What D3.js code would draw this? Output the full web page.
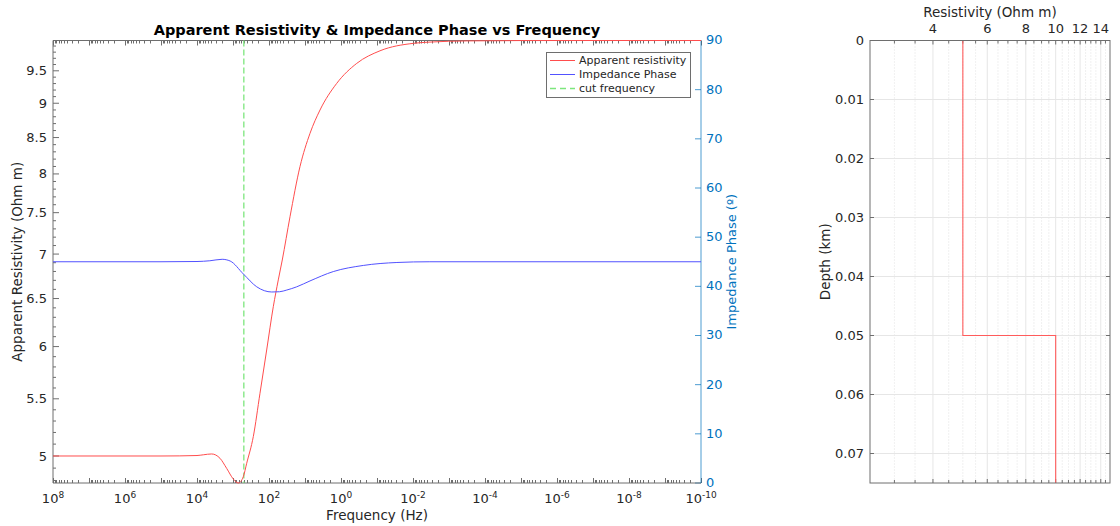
<!DOCTYPE html>
<html>
<head>
<meta charset="utf-8">
<script src="https://cdn.jsdelivr.net/npm/d3@7"></script>
<style>
  body { margin: 0; background: #fff; }
  text { font-family: "DejaVu Sans", sans-serif; }
</style>
</head>
<body>
<svg id="chart" width="1120" height="526"></svg>
<script>
// ---- Sounding curves (frequency in Hz, high to low) ----
const freqRho = [1e8, 1e6, 1e5, 3e4, 1e4, 6680, 3910, 2300, 1500, 982, 713, 518, 416, 273, 178, 116, 76, 55.2, 42.8, 26.1, 13.8, 7.26, 3.83, 1.32, 0.366, 0.0826, 0.0098, 0.00337, 3.2e-4, 1e-5, 1e-7, 1e-10];
const rhoApparent = [5.0, 5.0, 5.0, 5.001, 5.004, 5.01, 5.017, 4.981, 4.898, 4.812, 4.78, 4.83, 4.94, 5.164, 5.551, 5.966, 6.412, 6.705, 6.931, 7.449, 8.097, 8.56, 8.899, 9.302, 9.618, 9.822, 9.945, 9.966, 9.985, 9.991, 9.992, 9.992];

const freqPhase = [1e8, 1e6, 1e5, 1e4, 4400, 2000, 1200, 513, 219, 84, 51, 32, 17, 7.26, 1.64, 0.24, 0.028, 0.0034, 1e-5, 1e-10];
const phaseDeg = [45.0, 45.0, 45.0, 45.05, 45.2, 45.5, 45.15, 42.5, 39.9, 38.85, 38.9, 39.25, 39.9, 41.1, 43.0, 44.25, 44.85, 45.0, 45.0, 45.0];

const cutFrequency = 500;

// ---- Layered model ----
const layerTop = [0, 0.05];          // km
const layerResistivity = [5, 10];    // Ohm m
const modelBottom = 0.075;           // km

// ---- Ticks ----
const freqLabelExps = [8, 6, 4, 2, 0, -2, -4, -6, -8, -10];
const rhoTicks = [5, 5.5, 6, 6.5, 7, 7.5, 8, 8.5, 9, 9.5];
const phaseTicks = [0, 10, 20, 30, 40, 50, 60, 70, 80, 90];
const resTicks = [4, 6, 8, 10, 12, 14];
const depthTicks = [0, 0.01, 0.02, 0.03, 0.04, 0.05, 0.06, 0.07];

const svg = d3.select("#chart");
const axisGray = "#6e6e6e";
const textDark = "#262626";
const phaseBlue = "#0072BD";

// ================= Left panel =================
const L = { left: 53, right: 701, top: 40.5, bottom: 483 };
const x = d3.scaleLog().domain([1e8, 1e-10]).range([L.left, L.right]);
const yRho = d3.scaleLog().domain(d3.extent(rhoApparent)).range([L.bottom, L.top]);
const yPh = d3.scaleLinear().domain([0, 90]).range([L.bottom, L.top]);

const gL = svg.append("g");

// frequency ticks (decades + 2..9 minors), bottom and top
const freqTickVals = [];
for (let e = -10; e <= 8; e++) {
  for (let k = 1; k <= 9; k++) {
    const v = k * Math.pow(10, e);
    if (v <= 1e8 && v >= 1e-10) freqTickVals.push({ v, major: k === 1 });
  }
}
const tickG = gL.append("g").attr("stroke", axisGray).attr("stroke-width", 1);
freqTickVals.forEach(t => {
  const px = Math.round(x(t.v)) + 0.5;
  const len = t.major ? 5 : 3;
  tickG.append("line").attr("x1", px).attr("x2", px).attr("y1", L.bottom).attr("y2", L.bottom - len);
  tickG.append("line").attr("x1", px).attr("x2", px).attr("y1", L.top).attr("y2", L.top + len);
});

// left (resistivity) ticks: labelled every 0.5, minor every 0.1
const [rMin, rMax] = yRho.domain();
for (let i = Math.ceil(rMin * 10); i <= Math.floor(rMax * 10); i++) {
  const v = i / 10;
  const major = rhoTicks.some(t => Math.abs(t - v) < 1e-9);
  const py = yRho(v);
  tickG.append("line").attr("x1", L.left).attr("x2", L.left + (major ? 6 : 3)).attr("y1", py).attr("y2", py);
}
rhoTicks.forEach(v => {
  gL.append("text").attr("x", 47).attr("y", yRho(v)).attr("dy", "0.35em")
    .attr("text-anchor", "end").attr("font-size", 13).attr("fill", textDark).text(v);
});

// right (phase) ticks
phaseTicks.forEach(v => {
  const py = yPh(v);
  gL.append("line").attr("x1", L.right).attr("x2", L.right - 6).attr("y1", py).attr("y2", py)
    .attr("stroke", phaseBlue).attr("stroke-opacity", 0.7);
  gL.append("text").attr("x", 706).attr("y", py).attr("dy", "0.3em")
    .attr("font-size", 13).attr("fill", phaseBlue).text(v);
});

// frame
gL.append("line").attr("x1", L.left).attr("x2", L.right).attr("y1", L.bottom).attr("y2", L.bottom).attr("stroke", axisGray);
gL.append("line").attr("x1", L.left).attr("x2", L.right).attr("y1", L.top).attr("y2", L.top).attr("stroke", axisGray);
gL.append("line").attr("x1", L.left).attr("x2", L.left).attr("y1", L.top).attr("y2", L.bottom).attr("stroke", axisGray);
gL.append("line").attr("x1", L.right).attr("x2", L.right).attr("y1", L.top).attr("y2", L.bottom)
  .attr("stroke", phaseBlue).attr("stroke-opacity", 0.7);

// frequency labels as powers of ten
freqLabelExps.forEach(e => {
  const t = gL.append("text").attr("x", x(Math.pow(10, e))).attr("y", 503)
    .attr("text-anchor", "middle").attr("font-size", 13).attr("fill", textDark);
  t.append("tspan").text("10");
  t.append("tspan").attr("dy", -5.5).attr("font-size", 9).text(e);
});

// data lines
const rhoLine = d3.line().x((d, i) => x(freqRho[i])).y(d => yRho(d)).curve(d3.curveMonotoneX);
const phLine = d3.line().x((d, i) => x(freqPhase[i])).y(d => yPh(d)).curve(d3.curveMonotoneX);

gL.append("line").attr("x1", x(cutFrequency)).attr("x2", x(cutFrequency))
  .attr("y1", L.top).attr("y2", L.bottom)
  .attr("stroke", "#7de67d").attr("stroke-width", 1.3).attr("stroke-dasharray", "6,3");
gL.append("path").attr("d", rhoLine(rhoApparent)).attr("fill", "none")
  .attr("stroke", "#ff4d4d").attr("stroke-width", 1);
gL.append("path").attr("d", phLine(phaseDeg)).attr("fill", "none")
  .attr("stroke", "#5252ff").attr("stroke-width", 1);

// titles and axis labels
gL.append("text").attr("x", (L.left + L.right) / 2).attr("y", 35).attr("text-anchor", "middle")
  .attr("font-size", 14.5).attr("font-weight", "bold").attr("fill", "#000")
  .text("Apparent Resistivity & Impedance Phase vs Frequency");
gL.append("text").attr("x", (L.left + L.right) / 2).attr("y", 520).attr("text-anchor", "middle")
  .attr("font-size", 13.5).attr("fill", textDark).text("Frequency (Hz)");
gL.append("text").attr("transform", `translate(22,${(L.top + L.bottom) / 2}) rotate(-90)`)
  .attr("text-anchor", "middle").attr("font-size", 13.5).attr("fill", textDark)
  .text("Apparent Resistivity (Ohm m)");
gL.append("text").attr("transform", `translate(736,${(L.top + L.bottom) / 2}) rotate(-90)`)
  .attr("text-anchor", "middle").attr("font-size", 13).attr("fill", phaseBlue)
  .text("Impedance Phase (º)");

// legend
const legendItems = [
  { label: "Apparent resistivity", color: "#ff4d4d", dash: null },
  { label: "Impedance Phase", color: "#5252ff", dash: null },
  { label: "cut frequency", color: "#7de67d", dash: "6,4" }
];
const lg = gL.append("g").attr("transform", "translate(546,52)");
lg.append("rect").attr("x", 0.5).attr("y", 0.5).attr("width", 144).attr("height", 45)
  .attr("fill", "#fff").attr("stroke", axisGray);
legendItems.forEach((d, i) => {
  const cy = 8.5 + i * 14;
  lg.append("line").attr("x1", 4).attr("x2", 29).attr("y1", cy).attr("y2", cy)
    .attr("stroke", d.color).attr("stroke-width", d.dash ? 1.3 : 1).attr("stroke-dasharray", d.dash);
  lg.append("text").attr("x", 33).attr("y", cy).attr("dy", "0.35em").attr("font-size", 11)
    .attr("fill", textDark).text(d.label);
});

// ================= Right panel =================
const R = { left: 870, right: 1110, top: 40.5, bottom: 483 };
const xr = d3.scaleLog().domain([2.5, 15]).range([R.left, R.right]);
const yd = d3.scaleLinear().domain([0, modelBottom]).range([R.top, R.bottom]);
const gR = svg.append("g");

const resMinor = d3.range(3, 15, 0.5).filter(v => !resTicks.includes(v));

// grid
resMinor.forEach(v => {
  gR.append("line").attr("x1", xr(v)).attr("x2", xr(v)).attr("y1", R.top).attr("y2", R.bottom)
    .attr("stroke", "#d9d9d9").attr("stroke-width", 0.8).attr("stroke-dasharray", "1,2");
});
resTicks.forEach(v => {
  gR.append("line").attr("x1", xr(v)).attr("x2", xr(v)).attr("y1", R.top).attr("y2", R.bottom)
    .attr("stroke", "#e6e6e6").attr("stroke-width", 1);
});
depthTicks.forEach(v => {
  gR.append("line").attr("x1", R.left).attr("x2", R.right).attr("y1", yd(v)).attr("y2", yd(v))
    .attr("stroke", "#e6e6e6").attr("stroke-width", 1);
});

// ticks
const tR = gR.append("g").attr("stroke", axisGray);
resMinor.concat(resTicks).forEach(v => {
  const len = resTicks.includes(v) ? 4 : 3;
  tR.append("line").attr("x1", xr(v)).attr("x2", xr(v)).attr("y1", R.top).attr("y2", R.top + len);
  tR.append("line").attr("x1", xr(v)).attr("x2", xr(v)).attr("y1", R.bottom).attr("y2", R.bottom - len);
});
depthTicks.forEach(v => {
  tR.append("line").attr("x1", R.left).attr("x2", R.left + 4).attr("y1", yd(v)).attr("y2", yd(v));
  tR.append("line").attr("x1", R.right).attr("x2", R.right - 4).attr("y1", yd(v)).attr("y2", yd(v));
});

// model step curve built from the layer arrays
const stepPts = [];
layerResistivity.forEach((r, i) => {
  const top = layerTop[i];
  const bot = i + 1 < layerTop.length ? layerTop[i + 1] : modelBottom;
  stepPts.push([r, top], [r, bot]);
});
gR.append("path").attr("d", d3.line().x(d => xr(d[0])).y(d => yd(d[1]))(stepPts))
  .attr("fill", "none").attr("stroke", "#ff5c5c").attr("stroke-width", 1.1);

// frame
gR.append("rect").attr("x", R.left).attr("y", R.top).attr("width", R.right - R.left)
  .attr("height", R.bottom - R.top).attr("fill", "none").attr("stroke", axisGray);

// labels
resTicks.forEach(v => {
  gR.append("text").attr("x", xr(v)).attr("y", 33).attr("text-anchor", "middle")
    .attr("font-size", 13).attr("fill", textDark).text(v);
});
depthTicks.forEach(v => {
  gR.append("text").attr("x", 864).attr("y", yd(v)).attr("dy", "0.35em").attr("text-anchor", "end")
    .attr("font-size", 13).attr("fill", textDark).text(v);
});
gR.append("text").attr("x", (R.left + R.right) / 2).attr("y", 17).attr("text-anchor", "middle")
  .attr("font-size", 13.5).attr("fill", textDark).text("Resistivity (Ohm m)");
gR.append("text").attr("transform", `translate(830,${(R.top + R.bottom) / 2}) rotate(-90)`)
  .attr("text-anchor", "middle").attr("font-size", 13.5).attr("fill", textDark).text("Depth (km)");
</script>
</body>
</html>
